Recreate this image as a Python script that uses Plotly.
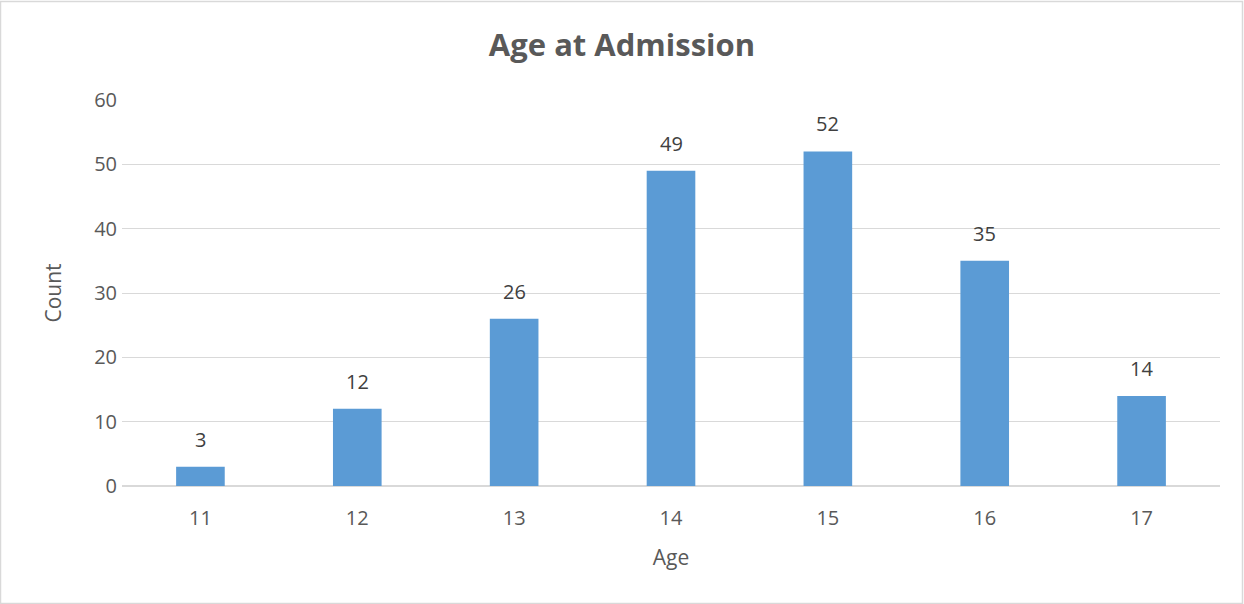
import plotly.graph_objects as go

ages = ["11", "12", "13", "14", "15", "16", "17"]
counts = [3, 12, 26, 49, 52, 35, 14]

W, H = 1244, 604
ML, MR, MT, MB = 122, 24, 100, 118
FONT = "Open Sans"
BAR = "#5B9BD5"
GRID = "#D9D9D9"
TXT = "#595959"

fig = go.Figure(go.Bar(x=ages, y=counts, marker=dict(color=BAR, line=dict(width=0)),
                       hoverinfo="skip"))

for i, c in enumerate(counts):
    fig.add_annotation(x=i, y=c, text=str(c), showarrow=False, yanchor="bottom",
                       yshift=12, font=dict(family=FONT, size=20, color="#404040"))

pw = W - ML - MR
ph = H - MT - MB
fig.add_shape(type="rect", xref="paper", yref="paper",
              x0=(0.5 - ML) / pw, x1=(W - 1.5 - ML) / pw,
              y0=-(MB - 0.5) / ph, y1=1 + (MT - 1.5) / ph,
              line=dict(color=GRID, width=1.5), layer="below")

fig.update_layout(
    width=W, height=H,
    margin=dict(l=ML, r=MR, t=MT, b=MB),
    paper_bgcolor="white", plot_bgcolor="white",
    bargap=0.69,
    showlegend=False,
    title=dict(text="<b>Age at Admission</b>", x=0.5, xref="container", xanchor="center",
               y=1 - 45 / H, yanchor="middle",
               font=dict(family=FONT, size=31, color=TXT)),
    font=dict(family=FONT, color=TXT),
    xaxis=dict(
        type="category",
        range=[-0.5, 6.5],
        title=dict(text="Age", font=dict(family=FONT, size=21, color=TXT), standoff=20),
        tickfont=dict(family=FONT, size=20, color=TXT),
        showline=False, showgrid=False, ticks="",
        ticklabelstandoff=18,
    ),
    yaxis=dict(
        range=[0, 60], dtick=10,
        title=dict(text="Count", font=dict(family=FONT, size=21, color=TXT), standoff=26),
        tickfont=dict(family=FONT, size=20, color=TXT),
        showgrid=True, gridcolor=GRID, gridwidth=1.3,
        zeroline=True, zerolinecolor=GRID, zerolinewidth=1.5,
        showline=False, ticks="", ticklabelstandoff=4,
    ),
)

fig.write_html("out.html")
